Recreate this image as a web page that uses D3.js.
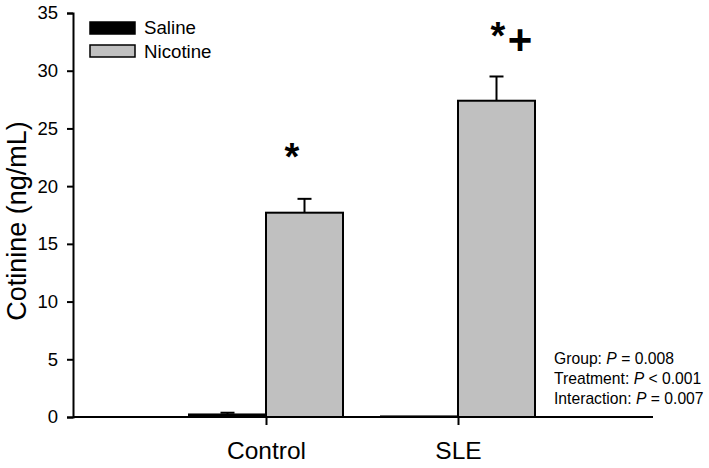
<!DOCTYPE html>
<html><head><meta charset="utf-8">
<script src="https://cdn.jsdelivr.net/npm/d3@7"></script>
<style>body{margin:0;background:#fff}svg{font-family:Arial,"Liberation Sans",sans-serif}</style>
</head><body><svg id="c" width="709" height="468"></svg>
<script>
const categories = ["Control", "SLE"];
const series = ["Saline", "Nicotine"];
const salineMean = [0.22, 0.05];
const salineErr = [0.15, 0.0];
const nicotineMean = [17.7, 27.4];
const nicotineErr = [1.2, 2.1];
const yTicks = [0, 5, 10, 15, 20, 25, 30, 35];
const stats = [["Group: ", "P", " = 0.008"], ["Treatment: ", "P", " < 0.001"], ["Interaction: ", "P", " = 0.007"]];
const colors = {Saline: "#000000", Nicotine: "#c0c0c0"};
const FONT = "Arial, 'Liberation Sans', sans-serif";

const svg = d3.select("#c");
const y = d3.scaleLinear().domain([0, 35]).range([417, 13]);
const x = d3.scalePoint().domain(categories).range([266, 458]);
const bw = 77;
const axisLeft = 73, axisRight = 653;

// bars
const data = [];
categories.forEach((c, i) => {
  data.push({c, s: "Saline", v: salineMean[i], e: salineErr[i], x0: x(c) - bw});
  data.push({c, s: "Nicotine", v: nicotineMean[i], e: nicotineErr[i], x0: x(c)});
});
data.forEach(d => {
  if (d.e > 0) {
    const cx = d.x0 + bw / 2;
    svg.append("line").attr("x1", cx).attr("x2", cx).attr("y1", y(d.v)).attr("y2", y(d.v + d.e)).attr("stroke", "#000").attr("stroke-width", 2);
    svg.append("line").attr("x1", cx - 7).attr("x2", cx + 7).attr("y1", y(d.v + d.e)).attr("y2", y(d.v + d.e)).attr("stroke", "#000").attr("stroke-width", 2);
  }
});
svg.selectAll("rect.bar").data(data).join("rect").attr("class", "bar")
  .attr("x", d => d.x0).attr("width", bw)
  .attr("y", d => y(d.v)).attr("height", d => y(0) - y(d.v))
  .attr("fill", d => colors[d.s]).attr("stroke", "#000").attr("stroke-width", 2);

// y axis
const ya = svg.append("g").attr("transform", `translate(${axisLeft},0)`)
  .call(d3.axisLeft(y).tickValues(yTicks).tickSize(6).tickPadding(9));
ya.select(".domain").attr("stroke-width", 2);
ya.selectAll(".tick line").attr("stroke-width", 2);
ya.selectAll("text").attr("font-size", 18.5).attr("font-family", FONT).attr("fill", "#000");

// x axis
const xa = svg.append("g").attr("transform", `translate(0,${y(0)})`)
  .call(d3.axisBottom(x).tickSize(8).tickPadding(17));
xa.select(".domain").attr("d", `M${axisLeft},0H${axisRight}`).attr("stroke-width", 2);
xa.selectAll(".tick line").attr("stroke-width", 2);
xa.selectAll("text").attr("font-size", 24.5).attr("font-family", FONT).attr("fill", "#000");

// y label
svg.append("text").attr("transform", "translate(26,221) rotate(-90)").attr("text-anchor", "middle")
  .attr("font-size", 27).text("Cotinine (ng/mL)");

// legend
series.forEach((s, i) => {
  svg.append("rect").attr("x", 90).attr("y", 22 + i * 23).attr("width", 45).attr("height", 12)
    .attr("fill", colors[s]).attr("stroke", "#000").attr("stroke-width", 1.5);
  svg.append("text").attr("x", 144).attr("y", 34 + i * 24).attr("font-size", 18.7).text(s);
});

// significance marks
const ctrlTop = y(nicotineMean[0] + nicotineErr[0]);
const sleTop = y(nicotineMean[1] + nicotineErr[1]);
svg.append("text").attr("x", x("Control") + 26).attr("y", ctrlTop - 29).attr("text-anchor", "middle").attr("font-size", 38).attr("font-weight", "bold").text("*");
svg.append("text").attr("x", x("SLE") + 40).attr("y", sleTop - 27).attr("text-anchor", "middle").attr("font-size", 38).attr("font-weight", "bold").text("*");
svg.append("text").attr("x", x("SLE") + 62).attr("y", sleTop - 22).attr("text-anchor", "middle").attr("font-size", 42).attr("font-weight", "bold").text("+");

// stats
stats.forEach((s, i) => {
  const t = svg.append("text").attr("x", 554).attr("y", 364 + i * 20).attr("font-size", 15.7);
  t.append("tspan").text(s[0]);
  t.append("tspan").attr("font-style", "italic").text(s[1]);
  t.append("tspan").text(s[2]);
});
</script></body></html>
